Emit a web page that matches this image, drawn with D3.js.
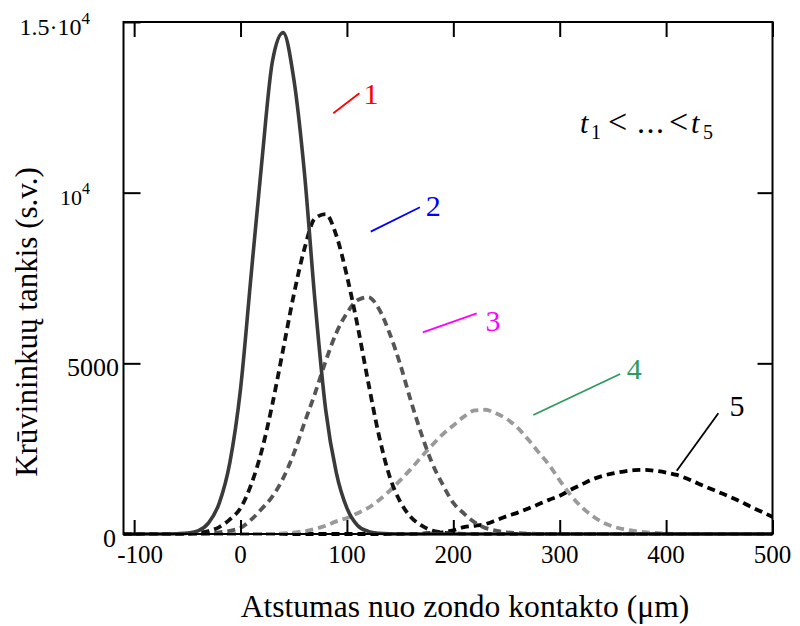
<!DOCTYPE html>
<html><head><meta charset="utf-8">
<script src="https://cdn.jsdelivr.net/npm/d3@7"></script>
<style>
body{margin:0;background:#fff}
svg{display:block}
text{font-family:"Liberation Serif","Times New Roman",serif;fill:#000}
</style></head><body>
<svg id="c" width="800" height="626"></svg>
<script>
// ---- data ----
const xValues = [-110,-100,-90,-80,-70,-60,-50,-40,-30,-20,-10,0,10,20,30,40,50,60,70,80,90,100,110,120,130,140,150,160,170,180,190,200,210,220,230,240,250,260,270,280,290,300,310,320,330,340,350,360,370,380,390,400,410,420,430,440,450,460,470,480,490,500];
const curve1 = [0,0,0,0,1,6,26,90,326,907,2100,4250,7600,10900,13850,14690,13343,10600,6815,3650,1800,760,250,77,20,4,0,0,0,0,0,0,0,0,0,0,0,0,0,0,0,0,0,0,0,0,0,0,0,0,0,0,0,0,0,0,0,0,0,0,0,0];
const curve2 = [0,0,0,1,2,4,13,35,88,202,428,760,1450,2450,3815,5400,7000,8350,9250,9370,8750,7560,6100,4450,2900,1700,950,500,250,100,40,15,5,0,0,0,0,0,0,0,0,0,0,0,0,0,0,0,0,0,0,0,0,0,0,0,0,0,0,0,0,0];
const curve3 = [0,0,0,0,1,2,5,10,22,47,95,180,420,740,1100,1630,2350,3250,4120,5060,5890,6470,6850,6940,6600,5890,4980,3910,2930,2080,1450,910,600,340,180,100,50,25,10,4,0,0,0,0,0,0,0,0,0,0,0,0,0,0,0,0,0,0,0,0,0,0];
const curve4 = [0,0,0,0,0,0,0,0,0,0,0,0,0,0,0,15,40,80,150,240,370,470,610,765,990,1260,1570,1900,2260,2600,2920,3180,3440,3620,3640,3535,3375,3126,2780,2400,2024,1570,1150,806,545,348,219,140,90,55,30,15,5,0,0,0,0,0,0,0,0,0];
const curve5 = [0,0,0,0,0,0,0,0,0,0,0,0,0,0,0,0,0,0,0,0,0,0,0,0,0,0,0,0,10,30,50,110,200,240,290,400,520,620,740,870,1000,1120,1290,1440,1590,1700,1775,1830,1870,1880,1850,1800,1730,1620,1480,1350,1220,1090,950,790,650,500];
const seriesNames = ["1","2","3","4","5"];
const xTicks = [-100,0,100,200,300,400,500];
const xTickLabels = ["-100","0","100","200","300","400","500"];
const yTicks = [0,5000,10000,15000];
const yTickLabels = ["0","5000","10^4","1.5\u00b710^4"];
const xTitle = "Atstumas nuo zondo kontakto (\u03bcm)";
const yTitle = "Kr\u016bvininku\u0173 tankis (s.v.)";

// ---- styling ----
const seriesStyle = [
  {color:"#3a3a3a", dash:null, width:3.6},
  {color:"#111111", dash:"8,5", width:3.8},
  {color:"#555555", dash:"8,5", width:3.8},
  {color:"#9a9a9a", dash:"8,5", width:3.8},
  {color:"#000000", dash:"8,5", width:3.8}
];
const labelColor = ["#ff0000","#0000ff","#ff00ff","#2f9a5f","#000000"];
// annotation anchors in data units: [x1,y1,x2,y2,textX,textY]
const annot = [
  [87.2,12325,111.7,12911,115.5,12589],
  [122.4,8857,168.6,9571,174.2,9302],
  [171.3,5909,222,6466,230.3,5956],
  [275.2,3486,356.8,4687,363,4532],
  [410,1855,449.1,3536,459.6,3457]
];

const svg = d3.select("#c");
const x = d3.scaleLinear().domain([-110,500]).range([123.5,772.5]);
const y = d3.scaleLinear().domain([0,15000]).range([534,22]);

svg.append("defs").append("clipPath").attr("id","clip")
  .append("rect").attr("x",x(-110)).attr("y",y(15000)-2)
  .attr("width",x(500)-x(-110)).attr("height",y(0)-y(15000)+4);

// curves
const series = [curve1,curve2,curve3,curve4,curve5];
const line = d3.line().x((d,i)=>x(xValues[i])).y(d=>y(d)).curve(d3.curveMonotoneX);
const gC = svg.append("g").attr("clip-path","url(#clip)");
[4,3,2,1,0].forEach(k=>{
  const st = seriesStyle[k];
  gC.append("path").datum(series[k]).attr("d",line)
    .attr("fill","none").attr("stroke",st.color).attr("stroke-width",st.width)
    .attr("stroke-dasharray",st.dash).attr("stroke-linejoin","round");
});

// frame
svg.append("rect").attr("x",x(-110)).attr("y",y(15000))
  .attr("width",x(500)-x(-110)).attr("height",y(0)-y(15000))
  .attr("fill","none").attr("stroke","#000").attr("stroke-width",2);

function styleAxis(g){
  g.select(".domain").remove();
  g.selectAll(".tick line").attr("stroke","#000").attr("stroke-width",2);
}
svg.append("g").attr("transform",`translate(0,${y(0)})`)
  .call(d3.axisBottom(x).tickValues(xTicks).tickSize(-14).tickFormat("")).call(styleAxis);
svg.append("g").attr("transform",`translate(0,${y(15000)})`)
  .call(d3.axisTop(x).tickValues(xTicks).tickSize(-15).tickFormat("")).call(styleAxis);
svg.append("g").attr("transform",`translate(${x(-110)},0)`)
  .call(d3.axisLeft(y).tickValues(yTicks).tickSize(-17).tickFormat("")).call(styleAxis);
svg.append("g").attr("transform",`translate(${x(500)},0)`)
  .call(d3.axisRight(y).tickValues(yTicks.slice(1,3)).tickSize(-15).tickFormat("")).call(styleAxis);

// x tick labels
xTicks.forEach((v,i)=>{
  svg.append("text").attr("x",x(v)+(v<0?6:0)).attr("y",563)
    .attr("text-anchor","middle").attr("font-size",25).text(xTickLabels[i]);
});
// y tick labels
const yLabelEnd = [116,119,90,90];
const yLabelSize = [26,26,22,24];
const ySupSize = [0,0,16,17];
yTicks.forEach((v,i)=>{
  const parts = yTickLabels[i].split("^");
  const t = svg.append("text").attr("x",yLabelEnd[i]).attr("y",y(v)+12.5)
    .attr("text-anchor","end").attr("font-size",yLabelSize[i]);
  t.append("tspan").text(parts[0]);
  if(parts[1]) t.append("tspan").attr("font-size",ySupSize[i]).attr("dy",-11).text(parts[1]);
});

// axis titles
svg.append("text").attr("x",465).attr("y",617).attr("text-anchor","middle")
  .attr("font-size",31.6).text(xTitle);
svg.append("text").attr("transform","translate(37,322) rotate(-90)")
  .attr("text-anchor","middle").attr("font-size",31).text(yTitle);

// annotations
annot.forEach((a,i)=>{
  svg.append("line").attr("x1",x(a[0])).attr("y1",y(a[1])).attr("x2",x(a[2])).attr("y2",y(a[3]))
    .attr("stroke",labelColor[i]).attr("stroke-width",1.8);
  svg.append("text").attr("x",x(a[4])).attr("y",y(a[5])).attr("font-size",30)
    .style("fill",labelColor[i]).text(seriesNames[i]);
});

// t1 < ... < t5
const tx = x(319.1), ty = y(11748);
const tg = svg.append("g").attr("transform",`translate(${tx},${ty})`);
tg.append("text").attr("x",0).attr("y",0).attr("font-size",30).attr("font-style","italic").text("t");
tg.append("text").attr("x",11).attr("y",6).attr("font-size",20).text("1");
tg.append("text").attr("x",28).attr("y",0).attr("font-size",34).text("<");
tg.append("text").attr("x",57).attr("y",0).attr("font-size",32).attr("letter-spacing",1.5).text("...");
tg.append("text").attr("x",89).attr("y",0).attr("font-size",34).text("<");
tg.append("text").attr("x",111).attr("y",0).attr("font-size",30).attr("font-style","italic").text("t");
tg.append("text").attr("x",123).attr("y",6).attr("font-size",20).text("5");
</script>
</body></html>
